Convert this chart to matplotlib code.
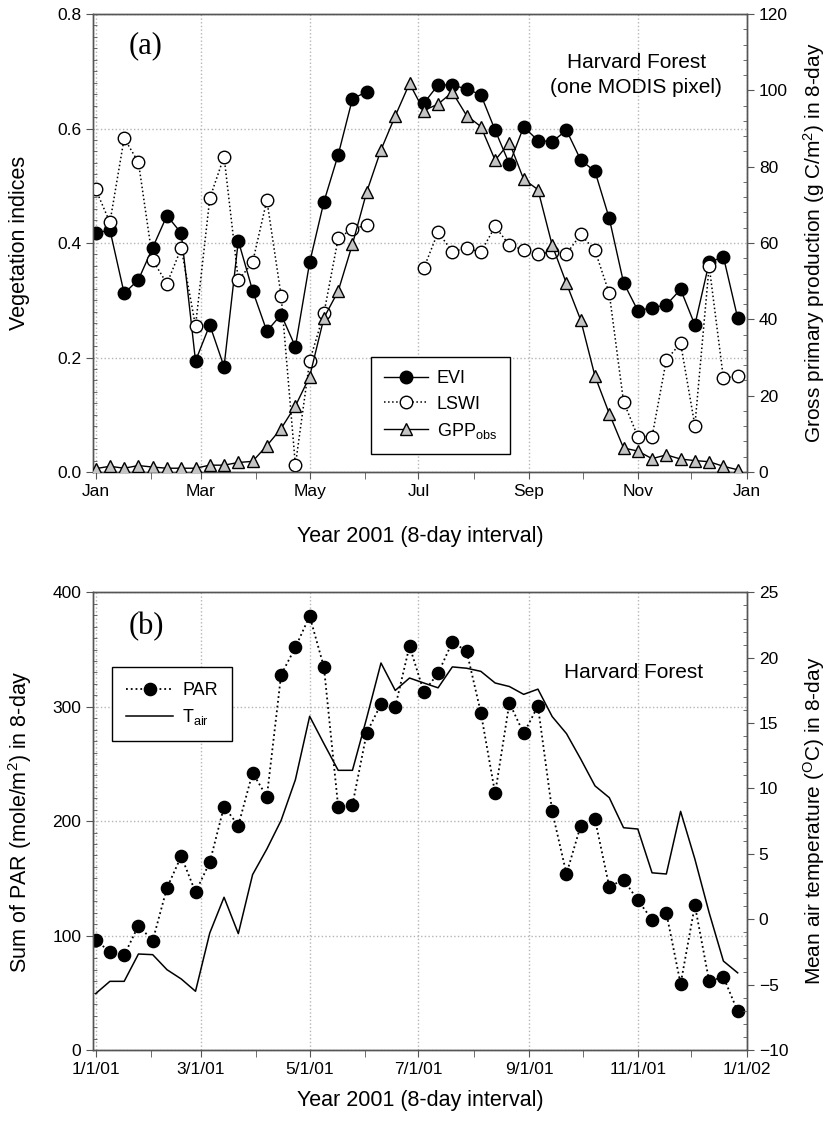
import numpy as np
import matplotlib
matplotlib.use('Agg')
import matplotlib.pyplot as plt
from matplotlib.ticker import MultipleLocator, FixedLocator
from matplotlib.lines import Line2D

plt.rcParams['font.family'] = ['Liberation Sans', 'DejaVu Sans']
plt.rcParams['mathtext.default'] = 'regular'

nan = np.nan

# 8-day composites, day of year 1, 9, ..., 361
doy = [1 + 8 * i for i in range(46)]

evi = [0.417, 0.423, 0.312, 0.336, 0.392, 0.448, 0.417, 0.194, 0.257, 0.184,
       0.404, 0.317, 0.246, 0.275, 0.219, 0.366, 0.472, 0.554, 0.652, 0.664,
       nan, nan, nan, 0.644, 0.676, 0.676, 0.669, 0.659, 0.597, 0.538,
       0.603, 0.579, 0.577, 0.597, 0.545, 0.525, 0.443, 0.331, 0.282, 0.287,
       0.292, 0.319, 0.257, 0.366, 0.376, 0.269]
lswi = [0.494, 0.436, 0.583, 0.541, 0.370, 0.329, 0.391, 0.255, 0.478, 0.551,
        0.335, 0.366, 0.475, 0.308, 0.012, 0.194, 0.277, 0.408, 0.425, 0.431,
        nan, nan, nan, 0.356, 0.419, 0.385, 0.391, 0.384, 0.429, 0.396,
        0.388, 0.381, 0.384, 0.381, 0.415, 0.387, 0.312, 0.123, 0.062, 0.062,
        0.196, 0.225, 0.081, 0.360, 0.164, 0.168]
gpp = [0.9, 1.5, 1.0, 1.7, 1.3, 1.0, 1.0, 1.0, 1.8, 1.8,
       2.5, 2.8, 6.9, 11.4, 17.3, 25.0, 40.4, 47.4, 59.7, 73.4,
       84.4, 93.3, 101.8, 94.7, 96.4, 99.5, 93.4, 90.5, 81.7, 86.3,
       76.7, 74.0, 59.4, 49.4, 39.8, 25.1, 15.3, 6.3, 5.5, 3.5,
       4.5, 3.4, 3.0, 2.7, 1.5, 0.6]

par = [96.5, 85.4, 82.8, 108.7, 95.6, 141.7, 169.4, 137.9, 164.1, 212.8,
       196.2, 242.3, 221.3, 328.0, 351.9, 379.3, 334.7, 212.5, 214.3, 277.3,
       302.3, 300.0, 353.1, 313.1, 329.2, 356.6, 348.7, 294.8, 224.2, 303.5,
       276.7, 300.6, 208.5, 153.9, 196.2, 201.5, 142.6, 149.0, 130.9, 114.0,
       119.8, 57.7, 126.5, 60.1, 63.8, 33.8]
tair = [-5.69, -4.75, -4.75, -2.66, -2.71, -3.86, -4.57, -5.51, -1.05, 1.68,
        -1.10, 3.41, 5.37, 7.56, 10.67, 15.52, 13.43, 11.39, 11.39, 15.4,
        19.6, 17.5, 18.45, 18.07, 17.7, 19.3, 19.2, 18.96, 18.07, 17.8,
        17.2, 17.6, 15.5, 14.2, 12.25, 10.2, 9.3, 7.0, 6.9, 3.55,
        3.46, 8.25, 4.6, 0.5, -3.2, -4.1]

month_major = [1, 60, 121, 182, 244, 305, 366]
month_minor = [32, 91, 152, 213, 274, 335]
labels_a = ['Jan', 'Mar', 'May', 'Jul', 'Sep', 'Nov', 'Jan']
labels_b = ['1/1/01', '3/1/01', '5/1/01', '7/1/01', '9/1/01', '11/1/01', '1/1/02']

SPINE = '#555555'
GRID = '#b5b5b5'
TICK_FS = 12.5
LAB_FS = 15.5


def style_axes(ax, axr, xlabels):
    ax.set_xlim(-0.5, 366.2)
    ax.xaxis.set_major_locator(FixedLocator(month_major))
    ax.xaxis.set_minor_locator(FixedLocator(month_minor))
    ax.set_xticklabels(xlabels)
    ax.grid(True, which='major', ls=':', color=GRID, lw=1.0)
    ax.set_axisbelow(True)
    for a in (ax, axr):
        for s in a.spines.values():
            s.set_color(SPINE)
            s.set_linewidth(1.0)
        a.tick_params(which='major', direction='out', length=5, color=SPINE,
                      labelsize=TICK_FS)
        a.tick_params(axis='y', which='minor', direction='in', length=3, color=SPINE)
    ax.tick_params(axis='x', which='minor', direction='out', length=5, color=SPINE)


fig = plt.figure(figsize=(8.33, 11.29), dpi=100)

# ---------- (a) ----------
ax1 = fig.add_axes([0.1116, 0.5819, 0.7851, 0.4057])
ax1b = ax1.twinx()
ax1.plot(doy, evi, '-', color='k', lw=1.0, marker='o', ms=9,
         mfc='k', mec='k', zorder=3)
ax1.plot(doy, lswi, ':', color='k', lw=1.1, marker='o', ms=9,
         mfc='white', mec='k', mew=1.0, zorder=3)
ax1b.plot(doy, gpp, '-', color='k', lw=1.0, marker='^', ms=9,
          mfc='#c4c4c4', mec='k', mew=1.0, zorder=3)
ax1.set_ylim(0, 0.8)
ax1.yaxis.set_major_locator(MultipleLocator(0.2))
ax1.yaxis.set_minor_locator(MultipleLocator(0.02))
ax1.yaxis.set_major_formatter(matplotlib.ticker.FormatStrFormatter('%.1f'))
ax1b.set_ylim(0, 120)
ax1b.yaxis.set_major_locator(MultipleLocator(20))
ax1b.yaxis.set_minor_locator(MultipleLocator(4))
style_axes(ax1, ax1b, labels_a)

ax1.set_ylabel('Vegetation indices', fontsize=LAB_FS)
ax1b.set_ylabel('Gross primary production (g C/m$^2$) in 8-day', fontsize=15)
ax1.set_xlabel('Year 2001 (8-day interval)', fontsize=LAB_FS)
ax1.yaxis.set_label_coords(-0.097, 0.5)
ax1b.yaxis.set_label_coords(1.083, 0.5)
ax1.xaxis.set_label_coords(0.5, -0.118)

ax1.text(0.055, 0.93, '(a)', transform=ax1.transAxes, fontsize=22,
         family='Liberation Serif', ha='left', va='center')
ax1.text(0.831, 0.867, 'Harvard Forest\n(one MODIS pixel)', transform=ax1.transAxes,
         fontsize=15, ha='center', va='center', linespacing=1.45)

h1 = [Line2D([], [], color='k', lw=1.0, marker='o', ms=9, mfc='k', mec='k'),
      Line2D([], [], color='k', lw=1.1, ls=':', marker='o', ms=9, mfc='white', mec='k'),
      Line2D([], [], color='k', lw=1.0, marker='^', ms=9, mfc='#c4c4c4', mec='k')]
leg1 = ax1b.legend(h1, ['EVI', 'LSWI', 'GPP$_{obs}$'], loc='lower left',
                   bbox_to_anchor=(0.425, 0.039), borderaxespad=0, fontsize=13,
                   frameon=True, fancybox=False, edgecolor='k', framealpha=1,
                   handlelength=2.4, labelspacing=0.45, borderpad=0.75,
                   handletextpad=0.5)
leg1.get_frame().set_linewidth(1.0)

# ---------- (b) ----------
ax2 = fig.add_axes([0.1116, 0.0700, 0.7851, 0.4053])
ax2b = ax2.twinx()
ax2.plot(doy, par, ':', color='k', lw=1.3, marker='o', ms=8.8,
         mfc='k', mec='k', zorder=3)
ax2b.plot(doy, tair, '-', color='k', lw=1.1, zorder=3)
ax2.set_ylim(0, 400)
ax2.yaxis.set_major_locator(MultipleLocator(100))
ax2.yaxis.set_minor_locator(MultipleLocator(10))
ax2b.set_ylim(-10, 25)
ax2b.yaxis.set_major_locator(MultipleLocator(5))
ax2b.yaxis.set_minor_locator(MultipleLocator(1))
style_axes(ax2, ax2b, labels_b)

ax2.set_ylabel('Sum of PAR (mole/m$^2$) in 8-day', fontsize=LAB_FS)
ax2b.set_ylabel('Mean air temperature ($^{O}$C) in 8-day', fontsize=15)
ax2.set_xlabel('Year 2001 (8-day interval)', fontsize=LAB_FS)
ax2.yaxis.set_label_coords(-0.09, 0.5)
ax2b.yaxis.set_label_coords(1.083, 0.5)
ax2.xaxis.set_label_coords(0.5, -0.088)

ax2.text(0.055, 0.925, '(b)', transform=ax2.transAxes, fontsize=22,
         family='Liberation Serif', ha='left', va='center')
ax2.text(0.827, 0.826, 'Harvard Forest', transform=ax2.transAxes,
         fontsize=15, ha='center', va='center')

h2 = [Line2D([], [], color='k', lw=1.3, ls=':', marker='o', ms=8.8, mfc='k', mec='k'),
      Line2D([], [], color='k', lw=1.1)]
leg2 = ax2b.legend(h2, ['PAR', 'T$_{air}$'], loc='upper left',
                   bbox_to_anchor=(0.029, 0.836), borderaxespad=0, fontsize=13,
                   frameon=True, fancybox=False, edgecolor='k', framealpha=1,
                   handlelength=2.6, labelspacing=0.45, borderpad=0.8,
                   handletextpad=0.5)
leg2.get_frame().set_linewidth(1.0)

fig.savefig('out.png', dpi=100)
